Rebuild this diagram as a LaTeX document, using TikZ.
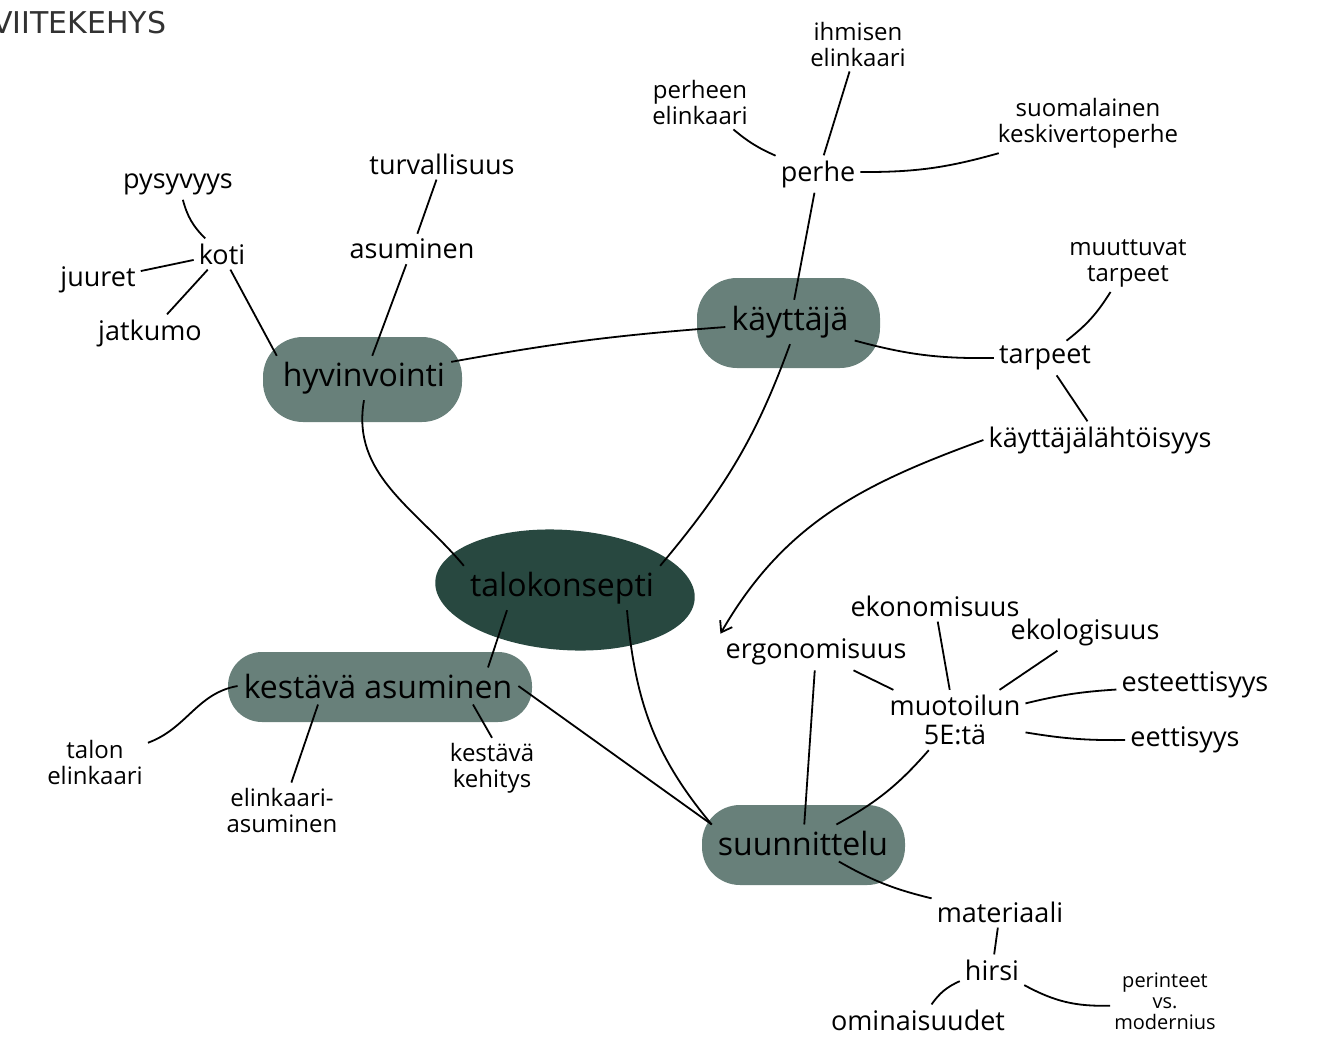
\documentclass[tikz,border=0pt]{standalone}
\usepackage{fontspec}
\newfontfamily\hand{Open Sans}
\newfontfamily\titlefont{DejaVu Sans}
\usetikzlibrary{arrows.meta}
\definecolor{midgreen}{RGB}{104,128,122}
\definecolor{darkgreen}{RGB}{40,72,64}
\definecolor{titlegrey}{RGB}{50,50,50}
\tikzset{
  lbl/.style={font=\hand\fontsize{27}{29}\selectfont, align=center, inner sep=5pt},
  smalllbl/.style={font=\hand\fontsize{24}{26}\selectfont, align=center, inner sep=5pt},
  blobtxt/.style={font=\hand\fontsize{32}{34}\selectfont, inner sep=6pt},
  conn/.style={line width=1.8pt, black},
}
\begin{document}
\begin{tikzpicture}[x=1pt,y=-1pt]
\useasboundingbox (0,0) rectangle (1320,1039);
% title
\node[anchor=west, font=\titlefont\fontsize{30}{32}\selectfont, text=titlegrey, inner sep=0pt] (title) at (-8,23) {VIITEKEHYS};

% blobs
\fill[midgreen, rounded corners=40pt] (263,337) rectangle (462,422);
\fill[midgreen, rounded corners=40pt] (697,278) rectangle (880,368);
\fill[midgreen, rounded corners=34pt] (228,652) rectangle (532,722);
\fill[midgreen, rounded corners=38pt] (702,805) rectangle (905,885);
\fill[darkgreen, rotate around={-4:(565,590)}] (565,590) ellipse [x radius=130, y radius=60];

% blob texts
\node[blobtxt] (hyv) at (364,378) {hyvinvointi};
\node[blobtxt] (kay) at (790,322) {käyttäjä};
\node[blobtxt] (talo) at (562,588) {talokonsepti};
\node[blobtxt] (kest) at (378,686) {kestävä asuminen};
\node[blobtxt] (suun) at (803,843) {suunnittelu};

% labels
\node[lbl] (pysy) at (178,184) {pysyvyys};
\node[lbl] (koti) at (222,254) {koti};
\node[lbl] (juur) at (98,280) {juuret};
\node[lbl] (jatk) at (150,333) {jatkumo};
\node[lbl] (turv) at (442,164) {turvallisuus};
\node[lbl] (asum) at (412,249) {asuminen};
\node[smalllbl] (perheen) at (700,102) {perheen\\elinkaari};
\node[smalllbl] (ihm) at (858,44) {ihmisen\\elinkaari};
\node[lbl] (perhe) at (818,174) {perhe};
\node[smalllbl] (suom) at (1088,123) {suomalainen\\keskivertoperhe};
\node[smalllbl] (muut) at (1128,263) {muuttuvat\\tarpeet};
\node[lbl] (tarp) at (1045,358) {tarpeet};
\node[lbl] (kayl) at (1100,440) {käyttäjälähtöisyys};
\node[lbl] (ergo) at (816,652) {ergonomisuus};
\node[lbl] (ekon) at (935,606) {ekonomisuus};
\node[lbl] (ekol) at (1085,632) {ekologisuus};
\node[lbl] (muot) at (955,720) {muotoilun\\5E:tä};
\node[lbl] (este) at (1195,685) {esteettisyys};
\node[lbl] (eett) at (1185,740) {eettisyys};
\node[smalllbl] (talon) at (95,762) {talon\\elinkaari};
\node[smalllbl] (elin) at (282,810) {elinkaari-\\asuminen};
\node[smalllbl] (kehi) at (492,768) {kestävä\\kehitys};
\node[lbl] (mate) at (1000,912) {materiaali};
\node[lbl] (hirsi) at (992,970) {hirsi};
\node[lbl] (omin) at (918,1020) {ominaisuudet};
\node[font=\hand\fontsize{20}{21}\selectfont, align=center, inner sep=4pt] (peri) at (1165,1001) {perinteet\\vs.\\modernius};

% connectors
\draw[conn] (koti) to[bend left=15] (pysy);
\draw[conn] (koti) -- (juur);
\draw[conn] (koti) -- (jatk);
\draw[conn] (koti) -- (hyv.north west);
\draw[conn] (turv) -- (asum);
\draw[conn] (asum) -- (hyv);
\draw[conn] (hyv) to[bend left=3] (kay);
\draw[conn] (hyv.south) to[out=-100, in=130] (talo.north west);
\draw[conn] (kay.south) to[out=-110, in=50] (talo.north east);
\draw[conn] (kay) -- (perhe);
\draw[conn] (perhe) to[bend left=8] (perheen);
\draw[conn] (perhe) -- (ihm);
\draw[conn] (perhe) to[bend right=8] (suom);
\draw[conn] (kay) to[bend right=8] (tarp);
\draw[conn] (tarp) to[bend right=10] (muut);
\draw[conn] (tarp) -- (kayl);
\draw[conn, -{Straight Barb[length=10pt, width=14pt]}] (kayl.west) to[out=200, in=60] (ergo.north west);
\draw[conn] ([xshift=-55]talo.south) -- ([xshift=110]kest.north);
\draw[conn] ([xshift=65]talo.south) to[out=-85, in=130] (suun.north west);
\draw[conn] (kest.east) -- (suun.north west);
\draw[conn] (kest.west) to[out=190, in=20] (talon);
\draw[conn] ([xshift=-60]kest.south) -- (elin);
\draw[conn] ([xshift=95]kest.south) -- (kehi.north);
\draw[conn] (ergo) -- (suun);
\draw[conn] (muot) -- (ergo);
\draw[conn] (muot) -- (ekon);
\draw[conn] (muot) -- (ekol);
\draw[conn] (muot) to[bend left=5] (este);
\draw[conn] (muot) to[bend right=5] (eett);
\draw[conn] (muot) to[bend left=10] (suun);
\draw[conn] (suun) to[bend right=8] (mate);
\draw[conn] (mate) -- (hirsi);
\draw[conn] (hirsi) to[bend right=15] (omin);
\draw[conn] (hirsi) to[bend right=15] (peri);
\end{tikzpicture}
\end{document}
